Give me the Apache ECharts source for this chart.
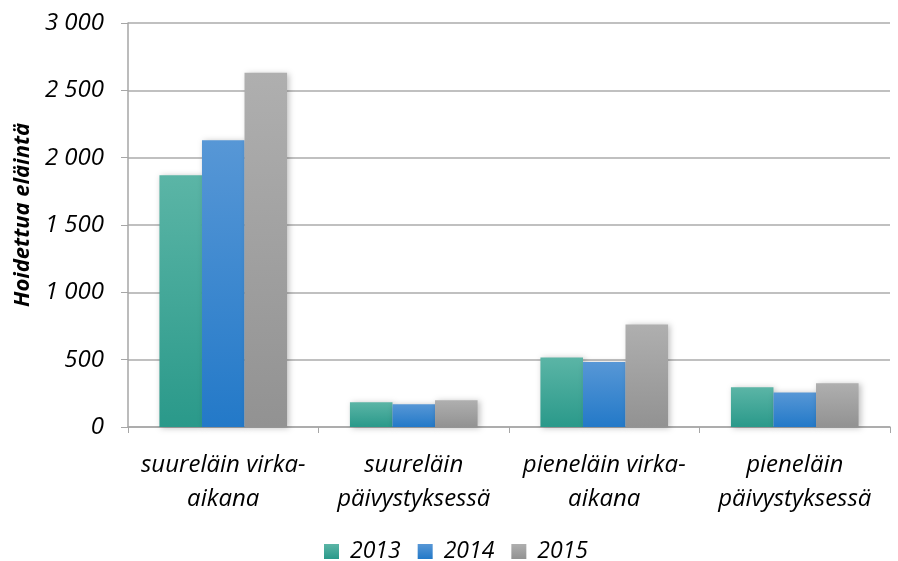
<!DOCTYPE html>
<html>
<head>
    <meta charset="utf-8">
    <script src="https://cdn.jsdelivr.net/npm/echarts@6/dist/echarts.min.js"></script>
    <style>
        html, body { margin: 0; padding: 0; background: #fff; }
        #main { width: 898px; height: 561px; }
    </style>
</head>
<body>
<div id="main"></div>
<script>
    var categories = ['suureläin virka-\naikana', 'suureläin\npäivystyksessä', 'pieneläin virka-\naikana', 'pieneläin\npäivystyksessä'];
    var years = ['2013', '2014', '2015'];
    var v2013 = [1870, 184, 517, 295];
    var v2014 = [2130, 169, 483, 257];
    var v2015 = [2630, 199, 762, 324];
    var yTicks = [0, 500, 1000, 1500, 2000, 2500, 3000];

    var font = '"Open Sans", "DejaVu Sans", sans-serif';

    function grad(top, bottom) {
        return new echarts.graphic.LinearGradient(0, 0, 0, 1, [
            { offset: 0, color: top },
            { offset: 1, color: bottom }
        ]);
    }
    var colors = [
        grad('#5bb5a6', '#2a998a'),
        grad('#5797d6', '#2379c8'),
        grad('#afafaf', '#929292')
    ];
    var values = [v2013, v2014, v2015];

    var series = years.map(function (y, i) {
        return {
            name: y,
            type: 'bar',
            data: values[i],
            barGap: '0%',
            barCategoryGap: '33%',
            itemStyle: {
                color: colors[i],
                shadowColor: 'rgba(0,0,0,0.25)',
                shadowBlur: 6,
                shadowOffsetX: 2,
                shadowOffsetY: 1
            }
        };
    });

    var myChart = echarts.init(document.getElementById('main'));
    var option = {
        animation: false,
        grid: { left: 128, right: 8, top: 23, bottom: 134 },
        legend: {
            data: years,
            top: 535,
            left: 319,
            itemWidth: 15,
            itemHeight: 15,
            itemGap: 17,
            icon: 'rect',
            textStyle: { fontFamily: font, fontStyle: 'italic', fontSize: 23, color: '#000', padding: [0, 0, 0, 6] }
        },
        xAxis: {
            type: 'category',
            data: categories,
            axisLine: { lineStyle: { color: '#a6a6a6', width: 1.5 } },
            axisTick: { show: true, interval: 0, length: 6, lineStyle: { color: '#a6a6a6' } },
            axisLabel: {
                interval: 0,
                margin: 21,
                fontFamily: font,
                fontStyle: 'italic',
                fontSize: 24,
                lineHeight: 34,
                color: '#000'
            }
        },
        yAxis: {
            type: 'value',
            min: 0,
            max: 3000,
            interval: 500,
            name: 'Hoidettua eläintä',
            nameLocation: 'middle',
            nameGap: 92,
            nameTextStyle: { fontFamily: font, fontStyle: 'italic', fontWeight: 'bold', fontSize: 22, color: '#000', padding: [0, 0, 0, 20] },
            axisLine: { show: true, lineStyle: { color: '#a6a6a6', width: 1.5 } },
            axisTick: { show: true, length: 7, lineStyle: { color: '#a6a6a6' } },
            splitLine: { lineStyle: { color: '#ababab', width: 1.5 } },
            axisLabel: {
                margin: 24,
                fontFamily: font,
                fontStyle: 'italic',
                fontSize: 24,
                color: '#000',
                formatter: function (v) {
                    return yTicks.indexOf(v) >= 0 ? String(v).replace(/\B(?=(\d{3})+(?!\d))/g, ' ') : '';
                }
            }
        },
        series: series
    };
    myChart.setOption(option);
</script>
</body>
</html>
